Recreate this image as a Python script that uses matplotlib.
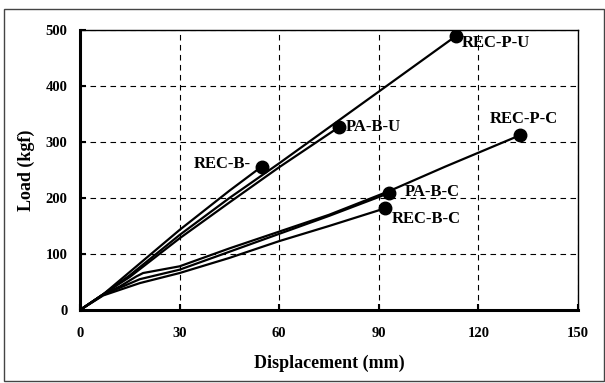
import numpy as np
import matplotlib
matplotlib.use('Agg')
from matplotlib import pyplot as plt
from matplotlib.patches import Rectangle

# displacement (mm) / load (kgf)
rec_p_u_x = [0, 7, 15, 30, 45, 60, 75, 90, 113.4]
rec_p_u_y = [0, 28, 62, 134, 200, 262, 326, 390, 490]
pa_b_u_x = [0, 7, 15, 30, 45, 60, 78.1]
pa_b_u_y = [0, 28, 59, 128, 192, 255, 327]
rec_b_x = [0, 7, 15, 30, 45, 54.7]
rec_b_y = [0, 28, 68, 143, 213, 256]
rec_p_c_x = [0, 7, 12, 17, 19, 30, 45, 60, 75, 93, 110, 132.5]
rec_p_c_y = [0, 28, 42, 60, 66, 78, 110, 140, 170, 212, 256, 312]
pa_b_c_x = [0, 7, 18, 30, 45, 60, 75, 93.2]
pa_b_c_y = [0, 27, 55, 72, 104, 136, 168, 209]
rec_b_c_x = [0, 7, 18, 30, 45, 60, 75, 91.9]
rec_b_c_y = [0, 26, 48, 66, 93, 123, 150, 181.6]

series = [
    (rec_p_u_x, rec_p_u_y, 'REC-P-U', (4, -5), 'left'),
    (pa_b_u_x, pa_b_u_y, 'PA-B-U', (5, 0), 'left'),
    (rec_b_x, rec_b_y, 'REC-B-', (-8, 2), 'right'),
    (rec_p_c_x, rec_p_c_y, 'REC-P-C', (3, 12), 'center'),
    (pa_b_c_x, pa_b_c_y, 'PA-B-C', (11, 1), 'left'),
    (rec_b_c_x, rec_b_c_y, 'REC-B-C', (5, -8), 'left'),
]

font = 'Liberation Serif'

fig = plt.figure(figsize=(6.05, 3.83), dpi=100)
fig.patches.append(Rectangle((4 / 605, 2 / 383), 600 / 605, 372 / 383,
                             transform=fig.transFigure, fill=False,
                             edgecolor='#444444', linewidth=1.0))
ax = fig.add_axes([80 / 605, 73 / 383, 498 / 605, 280 / 383])

for x, y, name, off, ha in series:
    ax.plot(x, y, color='black', linewidth=1.6)
    ax.plot(x[-1], y[-1], 'o', color='black', markersize=9)
    ax.annotate(name, (x[-1], y[-1]), xytext=off, textcoords='offset points',
                ha=ha, va='center', fontfamily=font, fontweight='bold',
                fontsize=12)

ax.set_xlim(0, 150)
ax.set_ylim(0, 500)
ax.set_xticks(np.arange(0, 151, 30))
ax.set_yticks(np.arange(0, 501, 100))
ax.grid(True, color='black', linestyle=(0, (5, 4)), linewidth=0.8)
ax.tick_params(direction='in', length=4, width=1.5)
ax.tick_params(axis='x', pad=12)
ax.tick_params(axis='y', pad=9)
for lab in ax.get_xticklabels() + ax.get_yticklabels():
    lab.set_fontfamily(font)
    lab.set_fontweight('bold')
    lab.set_fontsize(10.5)
ax.spines['left'].set_linewidth(2.2)
ax.spines['bottom'].set_linewidth(2.2)
ax.spines['top'].set_linewidth(1.0)
ax.spines['right'].set_linewidth(1.0)

ax.set_xlabel('Displacement (mm)', fontfamily=font, fontweight='bold',
              fontsize=13, labelpad=11)
ax.set_ylabel('Load (kgf)', fontfamily=font, fontweight='bold',
              fontsize=13, labelpad=8)

plt.savefig('out.png', dpi=100)
